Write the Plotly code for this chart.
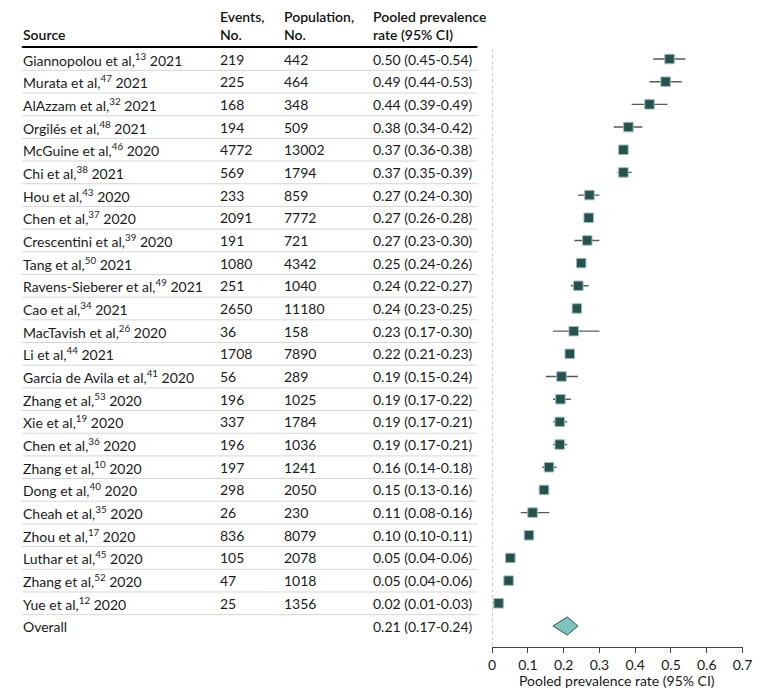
import plotly.graph_objects as go

# page body has an 8px margin, so the figure is drawn 8px smaller and offset
OFF = 8
W, H = 780 - OFF, 699 - OFF

# study data
authors = ["Giannopolou et al", "Murata et al", "AlAzzam et al", "Orgilés et al", "McGuine et al",
           "Chi et al", "Hou et al", "Chen et al", "Crescentini et al", "Tang et al",
           "Ravens-Sieberer et al", "Cao et al", "MacTavish et al", "Li et al",
           "Garcia de Avila et al", "Zhang et al", "Xie et al", "Chen et al", "Zhang et al",
           "Dong et al", "Cheah et al", "Zhou et al", "Luthar et al", "Zhang et al", "Yue et al"]
refs = [13, 47, 32, 48, 46, 38, 43, 37, 39, 50, 49, 34, 26, 44, 41, 53, 19, 36, 10, 40, 35, 17, 45, 52, 12]
years = [2021, 2021, 2021, 2021, 2020, 2021, 2020, 2020, 2020, 2021, 2021, 2021, 2020, 2021,
         2020, 2020, 2020, 2020, 2020, 2020, 2020, 2020, 2020, 2020, 2020]
events = [219, 225, 168, 194, 4772, 569, 233, 2091, 191, 1080, 251, 2650, 36, 1708,
          56, 196, 337, 196, 197, 298, 26, 836, 105, 47, 25]
population = [442, 464, 348, 509, 13002, 1794, 859, 7772, 721, 4342, 1040, 11180, 158, 7890,
              289, 1025, 1784, 1036, 1241, 2050, 230, 8079, 2078, 1018, 1356]
rate = [0.50, 0.49, 0.44, 0.38, 0.37, 0.37, 0.27, 0.27, 0.27, 0.25, 0.24, 0.24, 0.23, 0.22,
        0.19, 0.19, 0.19, 0.19, 0.16, 0.15, 0.11, 0.10, 0.05, 0.05, 0.02]
lower = [0.45, 0.44, 0.39, 0.34, 0.36, 0.35, 0.24, 0.26, 0.23, 0.24, 0.22, 0.23, 0.17, 0.21,
         0.15, 0.17, 0.17, 0.17, 0.14, 0.13, 0.08, 0.10, 0.04, 0.04, 0.01]
upper = [0.54, 0.53, 0.49, 0.42, 0.38, 0.39, 0.30, 0.28, 0.30, 0.26, 0.27, 0.25, 0.30, 0.23,
         0.24, 0.22, 0.21, 0.21, 0.18, 0.16, 0.16, 0.11, 0.06, 0.06, 0.03]
# plotted point estimates (slightly more precise than the rounded labels)
plot_rate = [0.496, 0.485, 0.440, 0.381, 0.367, 0.367, 0.272, 0.270, 0.266, 0.249, 0.241, 0.237,
             0.228, 0.217, 0.194, 0.191, 0.189, 0.189, 0.159, 0.145, 0.113, 0.103, 0.051, 0.046, 0.018]
overall = (0.21, 0.17, 0.24)

FONT = "Lato"
n = len(authors)
rows = list(range(n))
ov_row = n


# helpers taking page pixel positions from the reference
def px_x(p):
    return (p - OFF) / W


def px_y(p):
    return 1 - (p - OFF) / H


top_px, bot_px = 49, 647
row0_px, step_px = 59, 22.68
y_top = (top_px - row0_px) / step_px
y_bot = (bot_px - row0_px) / step_px

fig = go.Figure()

# CI whiskers + squares
fig.add_trace(go.Scatter(
    x=plot_rate, y=rows, mode="markers",
    marker=dict(symbol="square", size=9.5, color="#27514e", line=dict(color="#9dbdba", width=1)),
    error_x=dict(type="data", symmetric=False,
                 array=[u - r for u, r in zip(upper, plot_rate)],
                 arrayminus=[r - l for r, l in zip(plot_rate, lower)],
                 width=0, thickness=1.4, color="#5a5a5a"),
    showlegend=False, hoverinfo="skip",
))

# overall diamond
est, lo, hi = overall
fig.add_trace(go.Scatter(
    x=[lo, est, hi, est, lo], y=[ov_row, ov_row - 0.4, ov_row, ov_row + 0.4, ov_row],
    mode="lines", fill="toself", fillcolor="#80c3bd",
    line=dict(color="#2c5654", width=1), showlegend=False, hoverinfo="skip",
))

ann = []
txt = dict(family=FONT, size=14, color="#1a1a1a")
col_x = [17, 218, 283, 374]

# header
hdr = ["Source", "Events,<br>No.", "Population,<br>No.", "Pooled prevalence<br>rate (95% CI)"]
for cx, h in zip(col_x, hdr):
    ann.append(dict(xref="paper", yref="paper", x=px_x(cx), y=px_y(45), xanchor="left",
                    yanchor="bottom", text=h, showarrow=False, align="left",
                    font=dict(family=FONT, size=14, color="#111", weight=600)))

for i in rows:
    cells = [f"{authors[i]},<sup>{refs[i]}</sup> {years[i]}", str(events[i]), str(population[i]),
             f"{rate[i]:.2f} ({lower[i]:.2f}-{upper[i]:.2f})"]
    for cx, c in zip(col_x, cells):
        ann.append(dict(xref="paper", yref="y", x=px_x(cx), y=i, xanchor="left", yanchor="middle",
                        text=c, showarrow=False, font=txt))

ann.append(dict(xref="paper", yref="y", x=px_x(col_x[0]), y=ov_row, xanchor="left",
                yanchor="middle", text="Overall", showarrow=False, font=txt))
ann.append(dict(xref="paper", yref="y", x=px_x(col_x[3]), y=ov_row, xanchor="left",
                yanchor="middle", text=f"{est:.2f} ({lo:.2f}-{hi:.2f})", showarrow=False, font=txt))

# x axis title
ann.append(dict(xref="paper", yref="paper", x=px_x((497 + 752) / 2), y=px_y(680),
                xanchor="center", yanchor="middle", text="Pooled prevalence rate (95% CI)",
                showarrow=False, font=txt))

shapes = [dict(type="line", xref="paper", yref="paper", x0=px_x(18), x1=px_x(482),
               y0=px_y(47), y1=px_y(47), line=dict(color="#000", width=2))]
for i in range(n):
    shapes.append(dict(type="line", xref="paper", yref="y", x0=px_x(18), x1=px_x(482),
                       y0=i + 0.5, y1=i + 0.5, line=dict(color="#d6d6d6", width=1)))
shapes.append(dict(type="line", xref="x", yref="y", x0=0, x1=0, y0=y_top, y1=y_bot,
                   line=dict(color="#9a9a9a", width=1, dash="dot"), layer="below"))

fig.update_layout(
    width=W, height=H, margin=dict(l=0, r=0, t=0, b=0),
    paper_bgcolor="white", plot_bgcolor="white",
    xaxis=dict(domain=[px_x(497), px_x(752)], range=[0, 0.7], tickvals=[0, 0.1, 0.2, 0.3, 0.4, 0.5, 0.6, 0.7],
               ticktext=["0", "0.1", "0.2", "0.3", "0.4", "0.5", "0.6", "0.7"],
               showgrid=False, zeroline=False, showline=True, linecolor="#444", linewidth=1,
               ticks="outside", ticklen=5, tickcolor="#444",
               tickfont=dict(family=FONT, size=14, color="#1a1a1a")),
    yaxis=dict(domain=[px_y(bot_px), px_y(top_px)], range=[y_bot, y_top], visible=False),
    annotations=ann, shapes=shapes,
)

fig.write_html("out.html", config={"displayModeBar": False})
